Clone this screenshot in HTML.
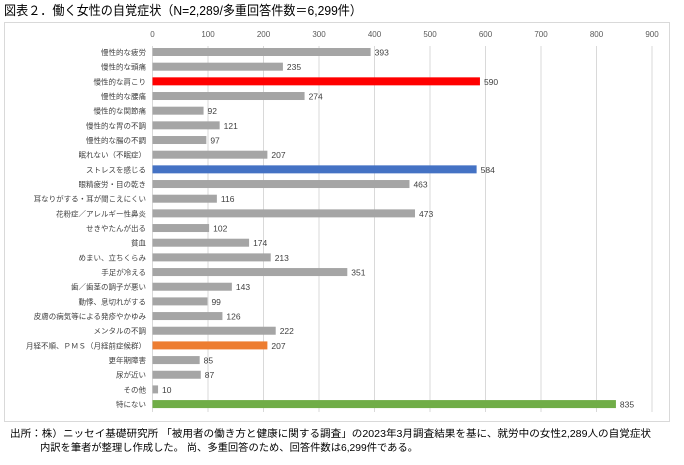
<!DOCTYPE html>
<html><head><meta charset="utf-8"><style>
body{margin:0;background:#fff;width:684px;height:460px;overflow:hidden;font-family:"Liberation Sans","Noto Sans CJK JP",sans-serif}
</style></head><body>
<svg width="684" height="460" xmlns="http://www.w3.org/2000/svg" font-family="Liberation Sans, Noto Sans CJK JP, sans-serif">
<text x="4" y="15" font-size="13" fill="#000" textLength="358" lengthAdjust="spacingAndGlyphs">図表２．働く女性の自覚症状（N=2,289/多重回答件数＝6,299件）</text>
<rect x="4.5" y="22.5" width="665" height="399" fill="#fff" stroke="#d9d9d9"/>
<g id="grid" stroke="#d9d9d9" stroke-width="1"></g>
<g id="ax" font-size="8" fill="#595959" text-anchor="middle"></g>
<g id="bars"></g>
<text x="10" y="437" font-size="10" fill="#000" textLength="641" lengthAdjust="spacingAndGlyphs">出所：株）ニッセイ基礎研究所 「被用者の働き方と健康に関する調査」の2023年3月調査結果を基に、就労中の女性2,289人の自覚症状</text>
<text x="40" y="451" font-size="10" fill="#000" textLength="378" lengthAdjust="spacingAndGlyphs">内訳を筆者が整理し作成した。 尚、多重回答のため、回答件数は6,299件である。</text>
</svg>
<script>
const d=[["慢性的な疲労",393],["慢性的な頭痛",235],["慢性的な肩こり",590,"#ff0000"],["慢性的な腰痛",274],["慢性的な関節痛",92],["慢性的な胃の不調",121],["慢性的な腸の不調",97],["眠れない（不眠症）",207],["ストレスを感じる",584,"#4472c4"],["眼精疲労・目の乾き",463],["耳なりがする・耳が聞こえにくい",116],["花粉症／アレルギー性鼻炎",473],["せきやたんが出る",102],["貧血",174],["めまい、立ちくらみ",213],["手足が冷える",351],["歯／歯茎の調子が悪い",143],["動悸、息切れがする",99],["皮膚の病気等による発疹やかゆみ",126],["メンタルの不調",222],["月経不順、ＰＭＳ（月経前症候群）",207,"#ed7d31"],["更年期障害",85],["尿が近い",87],["その他",10],["特にない",835,"#70ad47"]];
const NS="http://www.w3.org/2000/svg",x0=152.5,k=0.555;
function el(p,t,a,txt){const e=document.createElementNS(NS,t);for(const i in a)e.setAttribute(i,a[i]);if(txt!==undefined)e.textContent=txt;document.getElementById(p).appendChild(e);}
for(let v=0;v<=900;v+=100){const x=x0+v*k;el("grid","line",{x1:x,x2:x,y1:46,y2:412});el("ax","text",{x:x,y:37},v);}
d.forEach((r,i)=>{const y=52+i*14.67;const w=r[1]*k;
el("bars","rect",{x:x0,y:y-4,width:w,height:8,fill:r[2]||"#a5a5a5"});
el("bars","text",{x:146,y:y+3,"font-size":"7.5","text-anchor":"end",fill:"#404040"},r[0]);
el("bars","text",{x:x0+w+4,y:y+3.5,"font-size":"8.5",fill:"#404040"},r[1]);});
</script>
</body></html>
